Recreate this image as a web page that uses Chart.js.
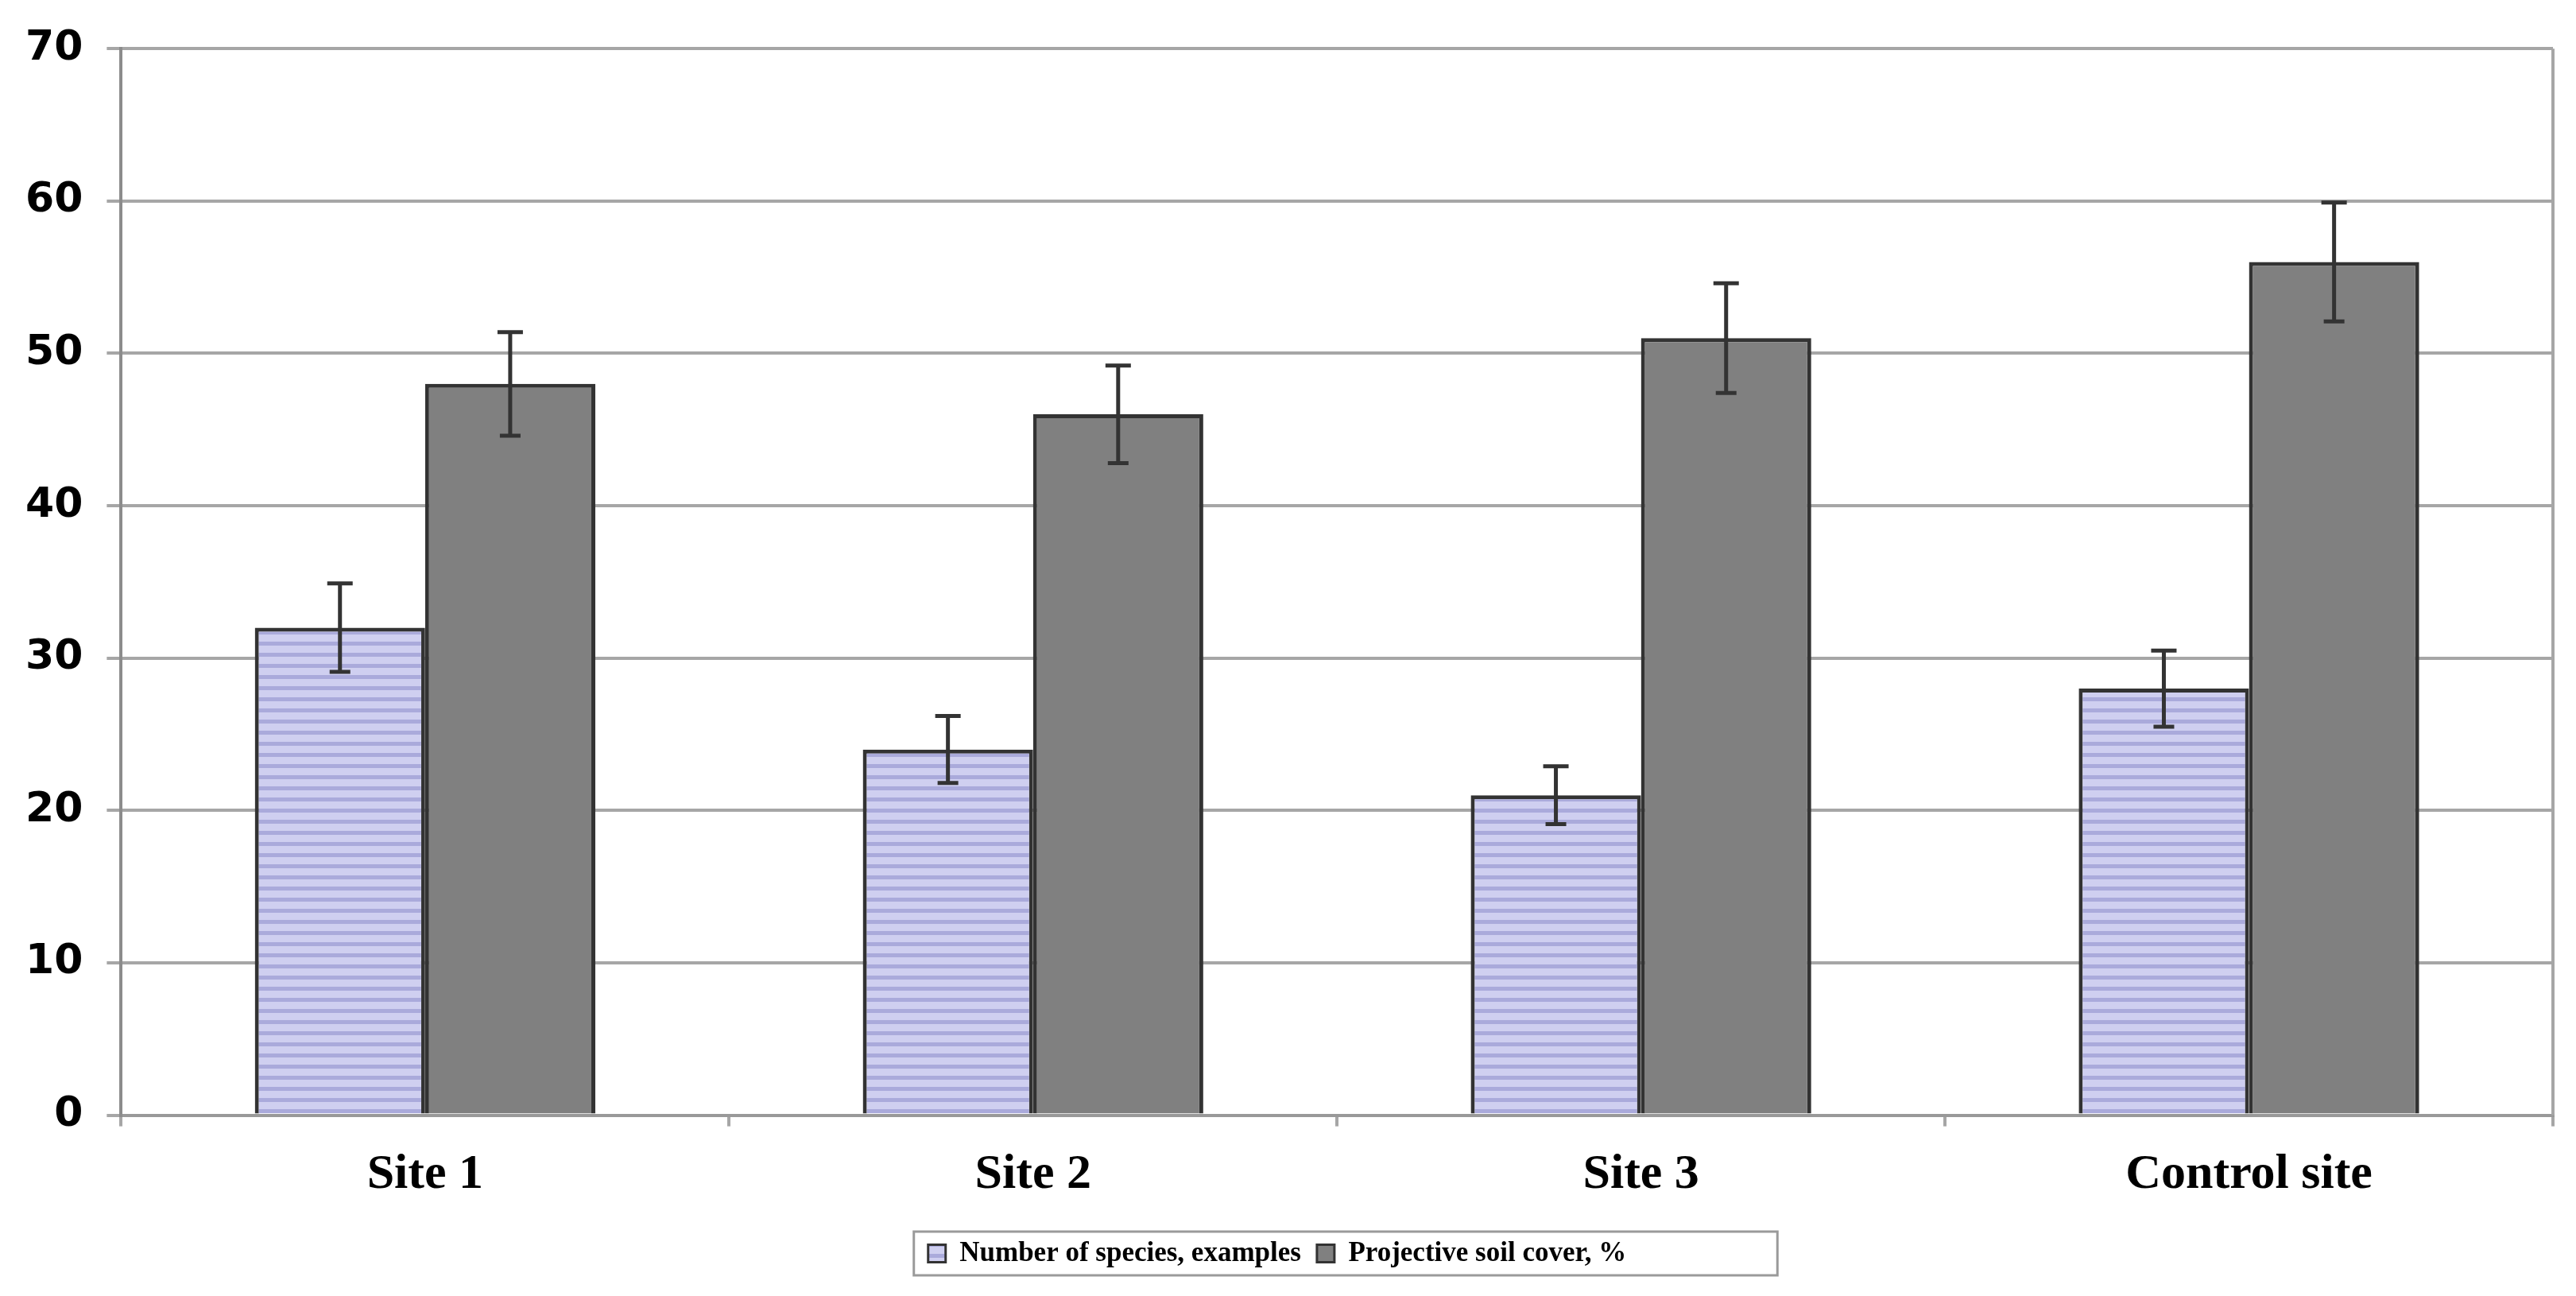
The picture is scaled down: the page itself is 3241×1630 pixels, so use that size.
<!DOCTYPE html>
<html>
<head>
<meta charset="utf-8">
<script src="https://cdn.jsdelivr.net/npm/chart.js@4.4.0/dist/chart.umd.min.js"></script>
<style>
html, body { margin: 0; padding: 0; background: #fff; }
</style>
</head>
<body>
<canvas id="stage" width="3241" height="1630"></canvas>
<script>
// values
const categories = ['Site 1', 'Site 2', 'Site 3', 'Control site'];
const speciesLabel = 'Number of species, examples';
const speciesValues = [32, 24, 21, 28];
const speciesErrors = [2.9, 2.2, 1.9, 2.5];
const coverLabel = 'Projective soil cover, %';
const coverValues = [48, 46, 51, 56];
const coverErrors = [3.4, 3.2, 3.6, 3.9];
const yMin = 0;
const yMax = 70;
const yStep = 10;

const gridGrey = '#a6a6a6';
const edgeDark = '#333333';

// horizontal lavender stripes like the old excel fill
function stripes() {
    const c = document.createElement('canvas');
    c.width = 8;
    c.height = 14;
    const g = c.getContext('2d');
    g.fillStyle = '#cfcff0';
    g.fillRect(0, 0, 8, 14);
    g.fillStyle = '#aaaadb';
    g.fillRect(0, 9, 8, 5);
    return g.createPattern(c, 'repeat');
}

const errorBars = {
    id: 'errorBars',
    afterDatasetsDraw(chart) {
        const ctx = chart.ctx;
        const y = chart.scales.y;
        chart.data.datasets.forEach((ds, i) => {
            chart.getDatasetMeta(i).data.forEach((bar, j) => {
                const top = y.getPixelForValue(ds.data[j] + ds.errors[j]);
                const bot = y.getPixelForValue(ds.data[j] - ds.errors[j]);
                ctx.save();
                ctx.strokeStyle = edgeDark;
                ctx.lineWidth = 5;
                ctx.beginPath();
                ctx.moveTo(bar.x, top);
                ctx.lineTo(bar.x, bot);
                ctx.moveTo(bar.x - 16, top);
                ctx.lineTo(bar.x + 16, top);
                ctx.moveTo(bar.x - 13, bot);
                ctx.lineTo(bar.x + 13, bot);
                ctx.stroke();
                ctx.restore();
            });
        });
    }
};

// right edge of the plot frame and the box round the legend
const frame = {
    id: 'frame',
    beforeDatasetsDraw(chart) {
        const ctx = chart.ctx;
        const a = chart.chartArea;
        ctx.save();
        ctx.strokeStyle = gridGrey;
        ctx.lineWidth = 4;
        ctx.beginPath();
        ctx.moveTo(a.right, a.top);
        ctx.lineTo(a.right, a.bottom);
        ctx.stroke();
        ctx.restore();
    },
    afterDraw(chart) {
        const boxes = chart.legend.legendHitBoxes;
        if (!boxes || !boxes.length) return;
        let l = Infinity, r = -Infinity, t = Infinity, b = -Infinity;
        boxes.forEach(h => {
            l = Math.min(l, h.left);
            r = Math.max(r, h.left + h.width);
            t = Math.min(t, h.top);
            b = Math.max(b, h.top + h.height);
        });
        const ctx = chart.ctx;
        ctx.save();
        ctx.strokeStyle = '#9a9a9a';
        ctx.lineWidth = 3;
        // the original box leaves a wide empty strip on the right
        ctx.strokeRect(l - 18, t - 10, r - l + 18 + 190, b - t + 20);
        ctx.restore();
    }
};

const stage = document.getElementById('stage');
new Chart(stage, {
    type: 'bar',
    data: {
        labels: categories,
        datasets: [
            {
                label: speciesLabel,
                data: speciesValues,
                errors: speciesErrors,
                backgroundColor: stripes(),
                borderColor: edgeDark,
                borderWidth: 5
            },
            {
                label: coverLabel,
                data: coverValues,
                errors: coverErrors,
                backgroundColor: '#808080',
                borderColor: edgeDark,
                borderWidth: 5
            }
        ]
    },
    options: {
        responsive: false,
        animation: false,
        devicePixelRatio: 1,
        categoryPercentage: 0.56,
        barPercentage: 1.0,
        layout: { padding: { left: 2, right: 29, top: 43, bottom: 26 } },
        plugins: {
            tooltip: { enabled: false },
            legend: {
                position: 'bottom',
                labels: {
                    color: '#000',
                    font: { family: 'Liberation Serif', weight: 'bold', size: 35 },
                    boxWidth: 22,
                    boxHeight: 22,
                    padding: 20,
                    generateLabels(chart) {
                        return chart.data.datasets.map((ds, i) => ({
                            text: ds.label,
                            fillStyle: ds.backgroundColor,
                            strokeStyle: edgeDark,
                            lineWidth: 3,
                            datasetIndex: i
                        }));
                    }
                }
            }
        },
        scales: {
            x: {
                grid: {
                    offset: true,
                    drawOnChartArea: false,
                    tickLength: 14,
                    color: gridGrey,
                    lineWidth: 4
                },
                border: { display: true, color: '#999999', width: 4 },
                ticks: {
                    color: '#000',
                    padding: 24,
                    font: { family: 'Liberation Serif', weight: 'bold', size: 62 }
                }
            },
            y: {
                min: yMin,
                max: yMax,
                ticks: {
                    stepSize: yStep,
                    color: '#000',
                    padding: 30,
                    font: { family: 'DejaVu Sans', weight: 'bold', size: 52 }
                },
                grid: {
                    color: gridGrey,
                    lineWidth: 4,
                    tickLength: 18,
                    tickColor: gridGrey
                },
                border: { display: true, color: '#8c8c8c', width: 4 }
            }
        }
    },
    plugins: [errorBars, frame]
});
</script>
</body>
</html>
